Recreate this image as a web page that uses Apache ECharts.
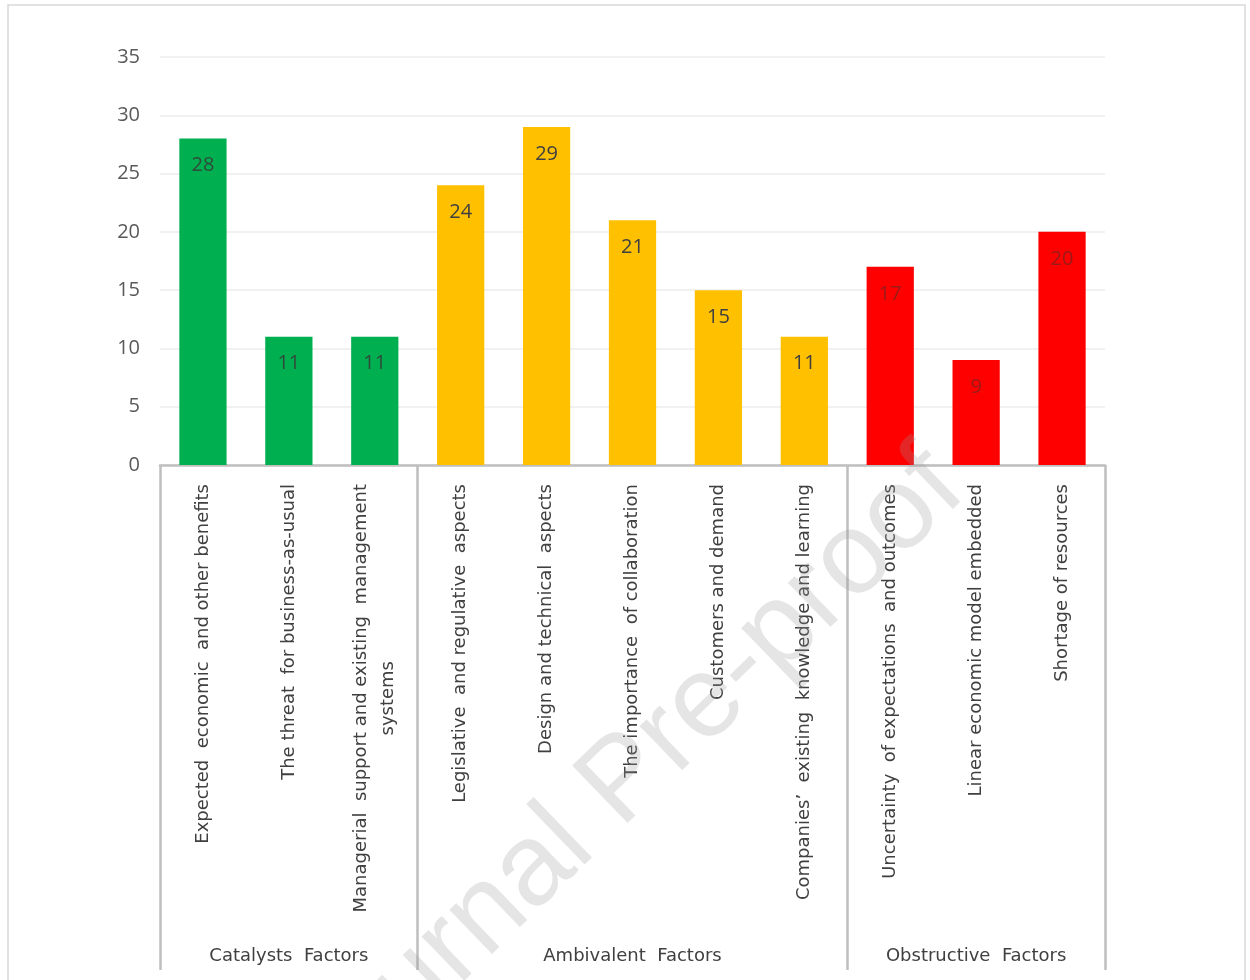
<!DOCTYPE html>
<html>
<head>
<meta charset="utf-8">
<script src="https://cdn.jsdelivr.net/npm/echarts@6/dist/echarts.min.js"></script>
<style>html,body{margin:0;padding:0;background:#fff}#c{width:1250px;height:980px}</style>
</head>
<body>
<div id="c"></div>
<script>
const categories = [
  'Expected  economic  and other benefits',
  'The threat  for business-as-usual',
  'Managerial  support and existing  management\nsystems',
  'Legislative  and regulative  aspects',
  'Design and technical  aspects',
  'The importance  of collaboration',
  'Customers and demand',
  'Companies\u2019  existing  knowledge and learning',
  'Uncertainty  of expectations  and outcomes',
  'Linear economic model embedded',
  'Shortage of resources'
];
const values = [28, 11, 11, 24, 29, 21, 15, 11, 17, 9, 20];
const groupNames = ['Catalysts  Factors', 'Ambivalent  Factors', 'Obstructive  Factors'];
const groupSizes = [3, 5, 3];
const yTicks = [0, 5, 10, 15, 20, 25, 30, 35];

const groupColors = ['#00B050', '#FFC000', '#FF0000'];
const groupLabelColors = ['#2f4a3a', '#404040', '#9a1a1a'];

// derived group membership
const groupIndex = [];
const groupStarts = [];
const groupCenters = {};
let acc = 0;
groupSizes.forEach((s, g) => {
  groupStarts.push(acc);
  groupCenters[acc + (s - 1) / 2] = groupNames[g];
  for (let k = 0; k < s; k++) groupIndex.push(g);
  acc += s;
});

const FONT = 'Open Sans';
const CATFONT = 'DejaVu Sans';
const CATSIZE = 18;
const chart = echarts.init(document.getElementById('c'));
chart.setOption({
  animation: false,
  backgroundColor: '#ffffff',
  textStyle: { fontFamily: FONT },
  grid: { left: 160, right: 145, top: 57, bottom: 515, containLabel: false },
  xAxis: [
    {
      type: 'category',
      data: categories,
      position: 'bottom',
      axisLine: { show: true, lineStyle: { color: '#bfbfbf', width: 2.5 } },
      axisTick: {
        show: true,
        length: 505,
        interval: (idx) => groupStarts.indexOf(idx) >= 0,
        lineStyle: { color: '#bfbfbf', width: 2.5 }
      },
      axisLabel: {
        interval: 0,
        rotate: 90,
        margin: 19,
        fontSize: CATSIZE,
        fontFamily: CATFONT,
        color: '#404040',
        formatter: function (v) {
          const parts = v.split('\n');
          if (parts.length > 1) {
            return '{a|' + parts[0] + '}\n{b|' + parts[1] + '}';
          }
          return v;
        },
        rich: {
          a: { fontSize: CATSIZE, fontFamily: CATFONT, color: '#404040', lineHeight: 27 },
          b: { fontSize: CATSIZE, fontFamily: CATFONT, color: '#404040', lineHeight: 27, align: 'center' }
        }
      },
      splitLine: { show: false }
    },
    {
      type: 'category',
      data: categories,
      position: 'bottom',
      axisLine: { show: false },
      axisTick: { show: false },
      axisLabel: {
        interval: 0,
        margin: 482,
        fontSize: 18,
        fontFamily: CATFONT,
        color: '#404040',
        formatter: (v, i) => groupCenters[i] || ''
      }
    }
  ],
  yAxis: {
    type: 'value',
    min: yTicks[0],
    max: yTicks[yTicks.length - 1],
    interval: yTicks[1] - yTicks[0],
    axisLine: { show: false },
    axisTick: { show: false },
    axisLabel: { fontSize: 20, fontFamily: FONT, color: '#595959', margin: 20 },
    splitLine: { lineStyle: { color: '#ededed', width: 1.5 } }
  },
  series: [
    {
      type: 'bar',
      xAxisIndex: 0,
      barWidth: '55%',
      data: values.map((v, i) => ({
        value: v,
        itemStyle: { color: groupColors[groupIndex[i]] },
        label: { color: groupLabelColors[groupIndex[i]] }
      })),
      label: {
        show: true,
        position: 'insideTop',
        distance: 17,
        fontSize: 20,
        fontFamily: FONT
      },
      z: 3
    }
  ],
  graphic: [
    {
      type: 'rect',
      shape: { x: 8, y: 5, width: 1237, height: 990 },
      style: { fill: 'none', stroke: '#d9d9d9', lineWidth: 1.5 },
      z: -10,
      silent: true
    },
    {
      type: 'text',
      x: 624,
      y: 782,
      rotation: 44 * Math.PI / 180,
      style: {
        text: 'Journal Pre-proof',
        font: '116px "Liberation Sans"',
        fill: 'rgba(150,150,150,0.25)',
        textAlign: 'center',
        textVerticalAlign: 'middle'
      },
      z: 100,
      silent: true
    }
  ]
});
</script>
</body>
</html>
